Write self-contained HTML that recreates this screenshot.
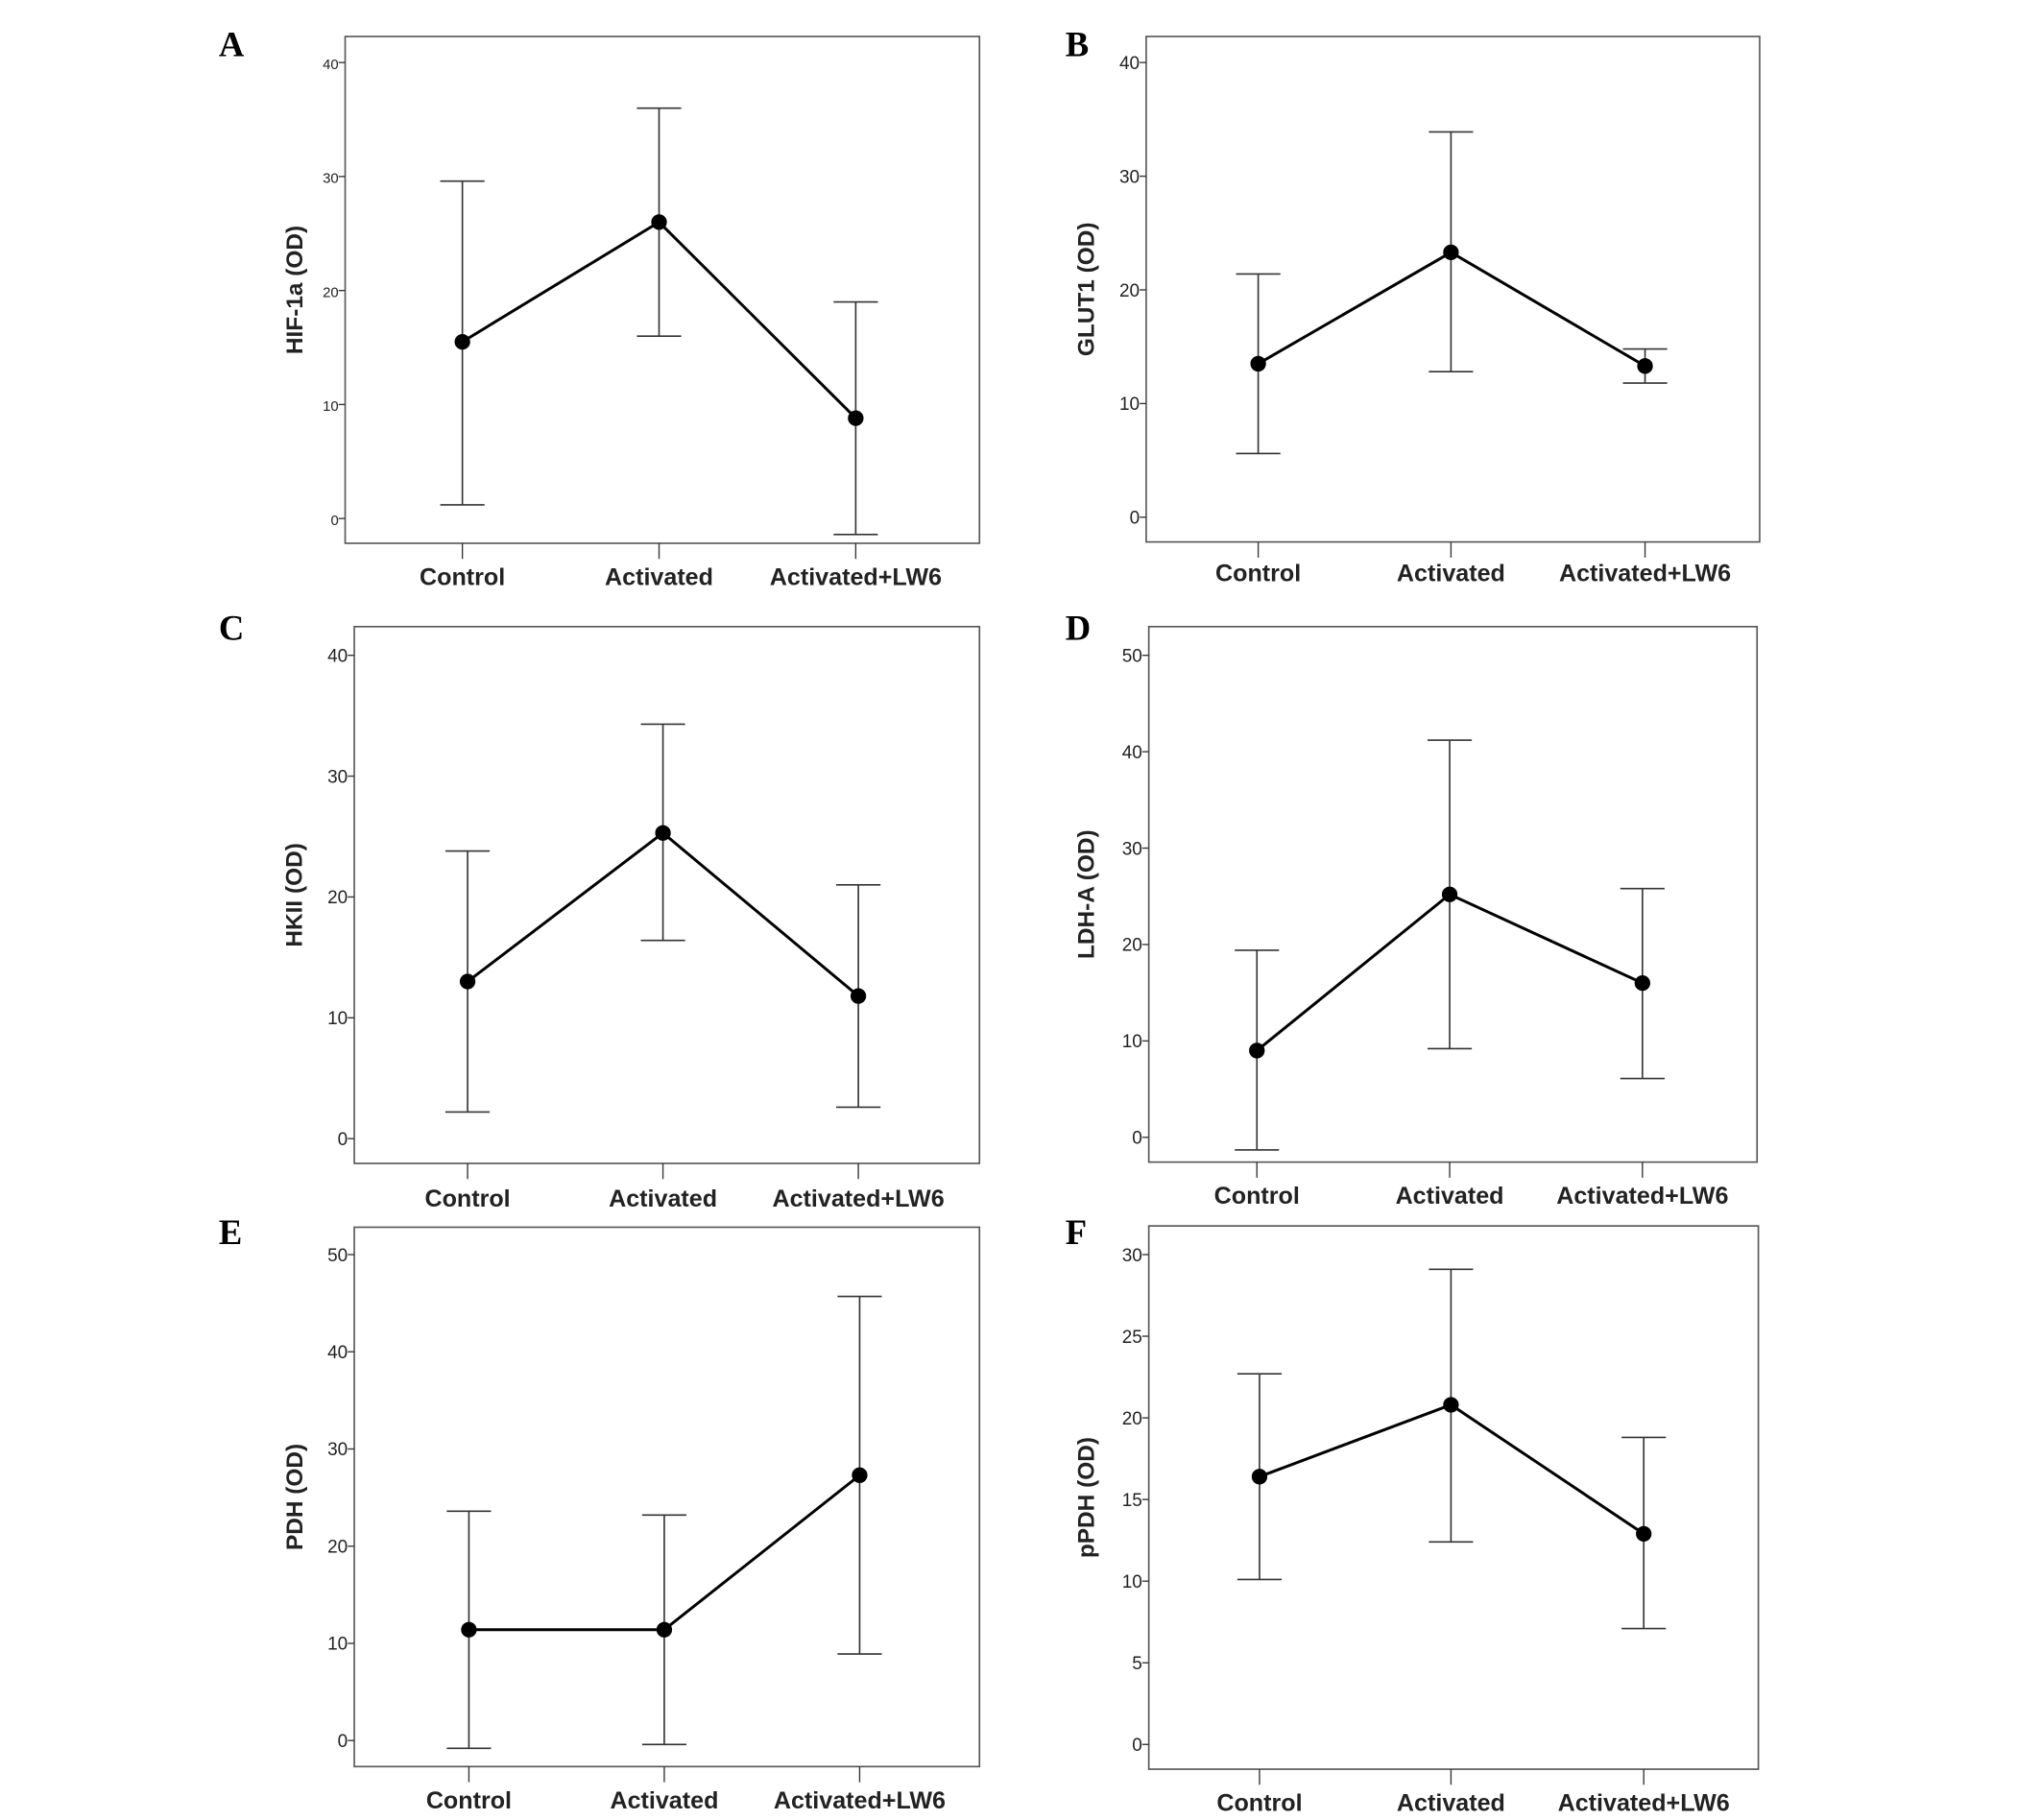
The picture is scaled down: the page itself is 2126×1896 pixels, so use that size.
<!DOCTYPE html>
<html><head><meta charset="utf-8"><style>
html,body{margin:0;padding:0;background:#fff;}
svg{display:block;}
</style></head><body>
<svg id="fig" width="2126" height="1896" viewBox="0 0 1567 1397" preserveAspectRatio="none" xmlns="http://www.w3.org/2000/svg"></svg>
<script>
const categories = ["Control", "Activated", "Activated+LW6"];
const meansA = [15.5, 26, 8.8];  const upperA = [29.6, 36, 19];   const lowerA = [1.2, 16, -1.4];
const meansB = [13.5, 23.3, 13.3]; const upperB = [21.4, 33.9, 14.8]; const lowerB = [5.6, 12.8, 11.8];
const meansC = [13, 25.3, 11.8]; const upperC = [23.8, 34.3, 21]; const lowerC = [2.2, 16.4, 2.6];
const meansD = [9, 25.2, 16];    const upperD = [19.4, 41.2, 25.8]; const lowerD = [-1.3, 9.2, 6.1];
const meansE = [11.4, 11.4, 27.3]; const upperE = [23.6, 23.2, 45.7]; const lowerE = [-0.8, -0.4, 8.9];
const meansF = [16.4, 20.8, 12.9]; const upperF = [22.7, 29.1, 18.8]; const lowerF = [10.1, 12.4, 7.1];
const ticks40 = [0, 10, 20, 30, 40];
const ticks50 = [0, 10, 20, 30, 40, 50];
const ticks30 = [0, 5, 10, 15, 20, 25, 30];

const NS = "http://www.w3.org/2000/svg";
const svg = document.getElementById("fig");
function mk(tag, attrs, parent) {
  const e = document.createElementNS(NS, tag);
  for (const k in attrs) e.setAttribute(k, attrs[k]);
  (parent || svg).appendChild(e);
  return e;
}
const panels = [
  {id:"a", letter:"A", lx:168, ly:43, label:"HIF-1a (OD)", box:[265,28,752,417], yTop:48, yZero:398, tMax:40, ticks:ticks40, xs:[355,506,657], labY:449, yl:226, m:meansA, u:upperA, l:lowerA, tf:11},
  {id:"b", letter:"B", lx:818, ly:43, label:"GLUT1 (OD)", box:[880,28,1351,416], yTop:48, yZero:397, tMax:40, ticks:ticks40, xs:[966,1114,1263], labY:446, yl:834, m:meansB, u:upperB, l:lowerB, tf:14},
  {id:"c", letter:"C", lx:168, ly:491, label:"HKII (OD)", box:[272,481,752,893], yTop:503, yZero:874, tMax:40, ticks:ticks40, xs:[359,509,659], labY:926, yl:226, m:meansC, u:upperC, l:lowerC, tf:14},
  {id:"d", letter:"D", lx:818, ly:491, label:"LDH-A (OD)", box:[882,481,1349,892], yTop:503, yZero:873, tMax:50, ticks:ticks50, xs:[965,1113,1261], labY:924, yl:834, m:meansD, u:upperD, l:lowerD, tf:14},
  {id:"e", letter:"E", lx:168, ly:955, label:"PDH (OD)", box:[272,942,752,1356], yTop:963, yZero:1336, tMax:50, ticks:ticks50, xs:[360,510,660], labY:1388, yl:226, m:meansE, u:upperE, l:lowerE, tf:14},
  {id:"f", letter:"F", lx:818, ly:955, label:"pPDH (OD)", box:[882,941,1350,1358], yTop:963, yZero:1339, tMax:30, ticks:ticks30, xs:[967,1114,1262], labY:1390, yl:834, m:meansF, u:upperF, l:lowerF, tf:14},
];
panels.forEach(p => {
  const g = mk("g", {});
  
  
  const y = v => p.yZero - (v / p.tMax) * (p.yZero - p.yTop);
  const x = i => p.xs[i];
  const [x0,y0,x1,y1] = p.box;
  const lt = mk("text", {x:p.lx, y:p.ly, "font-family":"Liberation Serif, serif", "font-weight":"bold", "font-size":27}, g);
  lt.textContent = p.letter;
  
  
  const r = mk("rect", {x:x0, y:y0, width:x1-x0, height:y1-y0, fill:"none", stroke:"#555", "stroke-width":1.2}, g);
  
  
  p.ticks.forEach(t => {
    const ty = y(t);
    mk("line", {x1:x0-5, y1:ty, x2:x0, y2:ty, stroke:"#333", "stroke-width":1}, g);
    const tt = mk("text", {x:x0-5, y:ty+5, "text-anchor":"end", "font-family":"Liberation Sans Narrow, Liberation Sans, sans-serif", "font-size":p.tf, fill:"#222"}, g);
    tt.textContent = t;
    
    
  });
  categories.forEach((c, i) => {
    mk("line", {x1:x(i), y1:y1, x2:x(i), y2:y1+12, stroke:"#333", "stroke-width":1}, g);
    const ct = mk("text", {x:x(i), y:p.labY, "text-anchor":"middle", "font-family":"Liberation Sans, sans-serif", "font-weight":"bold", "font-size":18.5, fill:"#222"}, g);
    ct.textContent = c;
    
    
  });
  const yc = (p.box[1] + p.box[3]) / 2;
  const yt = mk("text", {x:p.yl+6, y:yc, transform:"rotate(-90 " + (p.yl+6) + " " + yc + ")", "text-anchor":"middle", "font-family":"Liberation Sans, sans-serif", "font-weight":"bold", "font-size":18, fill:"#222"}, g);
  yt.textContent = p.label;
  
  
  p.m.forEach((v, i) => {
    const eb = mk("g", {stroke:"#333", "stroke-width":1.2}, g);
    
    
    mk("line", {x1:x(i), y1:y(p.u[i]), x2:x(i), y2:y(p.l[i])}, eb);
    mk("line", {x1:x(i)-17, y1:y(p.u[i]), x2:x(i)+17, y2:y(p.u[i])}, eb);
    mk("line", {x1:x(i)-17, y1:y(p.l[i]), x2:x(i)+17, y2:y(p.l[i])}, eb);
  });
  const pts = p.m.map((v, i) => x(i) + "," + y(v)).join(" ");
  const pl = mk("polyline", {points:pts, fill:"none", stroke:"#000", "stroke-width":2.2}, g);
  
  
  p.m.forEach((v, i) => {
    const c = mk("circle", {cx:x(i), cy:y(v), r:6, fill:"#000"}, g);
    
    
  });
});
</script>
</body></html>
